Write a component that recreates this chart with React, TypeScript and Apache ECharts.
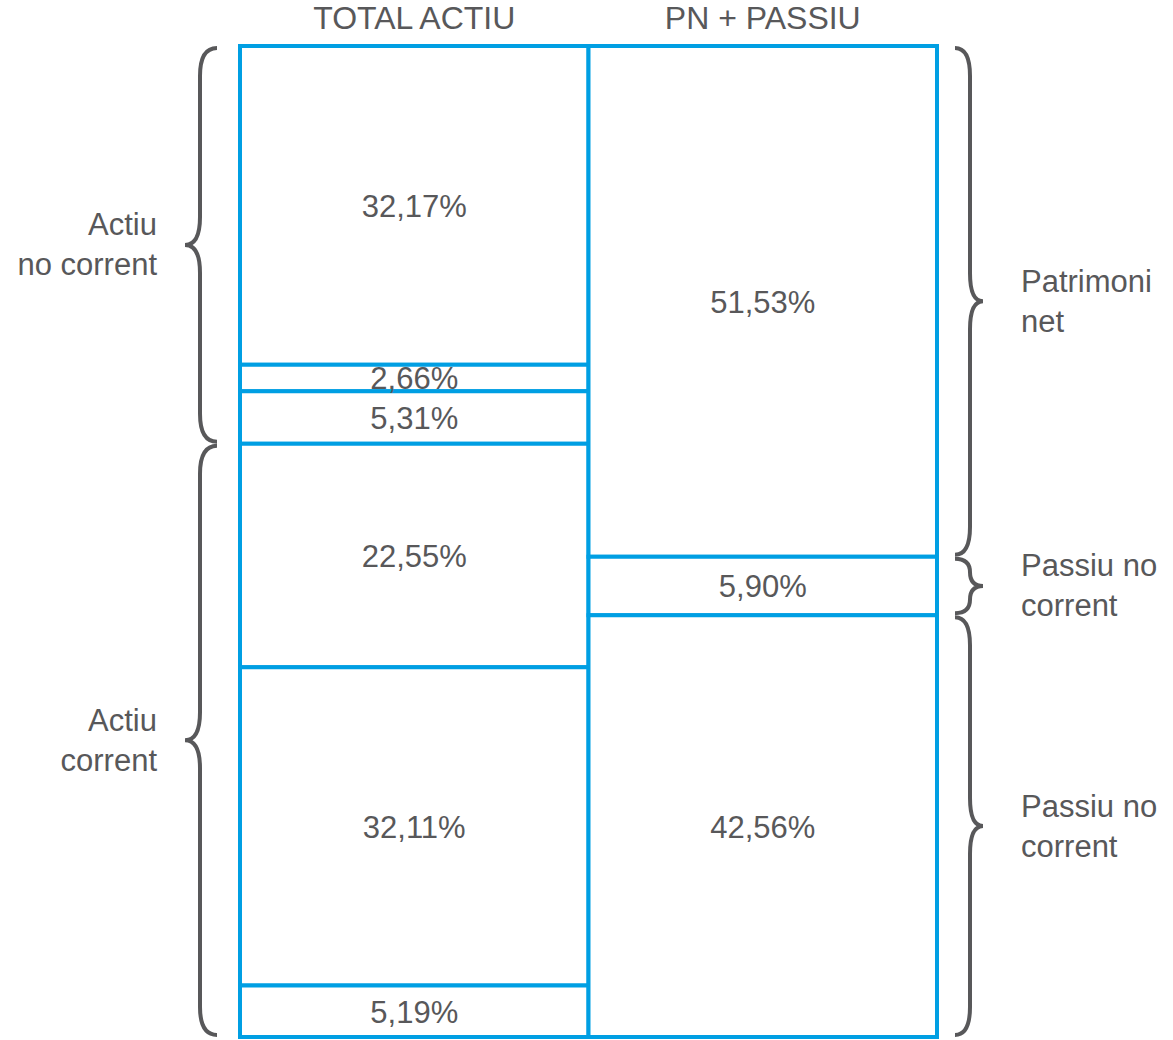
import React, { useEffect, useRef } from "react";
import * as echarts from "echarts";

const columns = ["TOTAL ACTIU", "PN + PASSIU"];
const actiuValues = [32.17, 2.66, 5.31, 22.55, 32.11, 5.19];
const passiuValues = [51.53, 5.9, 42.56];
// groups: [first segment index, last segment index, label]
const leftGroups: [number, number, string][] = [
  [0, 2, "Actiu\nno corrent"],
  [3, 5, "Actiu\ncorrent"],
];
const rightGroups: [number, number, string][] = [
  [0, 0, "Patrimoni\nnet"],
  [1, 1, "Passiu no\ncorrent"],
  [2, 2, "Passiu no\ncorrent"],
];

const BLUE = "#009fe3";
const GREY = "#58585a";
const FONT = "'Liberation Sans', Arial, Helvetica, sans-serif";

function cum(arr: number[], upto: number) {
  let s = 0;
  for (let i = 0; i < upto; i++) s += arr[i];
  return s;
}

export default function App() {
  const ref = useRef<HTMLDivElement>(null);
  useEffect(() => {
    document.body.style.margin = "0";
    const chart = echarts.init(ref.current!, null, { renderer: "svg" });

    const segData: any[] = [];
    [actiuValues, passiuValues].forEach((vals, col) => {
      vals.forEach((v, i) => {
        segData.push([col, cum(vals, i), cum(vals, i + 1), v]);
      });
    });

    const segSeries = {
      type: "custom",
      clip: false,
      silent: true,
      data: segData,
      encode: { x: 0, y: [1, 2] },
      renderItem: (params: any, api: any) => {
        const col = api.value(0);
        const c0 = api.coord([col, api.value(1)]);
        const c1 = api.coord([col, api.value(2)]);
        const bw = api.size([1, 0])[0];
        const v = api.value(3);
        const y0 = c0[1];
        const y1 = c1[1];
        return {
          type: "group",
          children: [
            {
              type: "rect",
              shape: { x: c0[0] - bw / 2, y: y0, width: bw, height: y1 - y0 },
              style: { fill: "#ffffff", stroke: BLUE, lineWidth: 4 },
            },
            {
              type: "text",
              style: {
                text: v.toFixed(2).replace(".", ",") + "%",
                x: c0[0],
                y: (y0 + y1) / 2 + 1,
                align: "center",
                verticalAlign: "middle",
                fill: GREY,
                fontSize: 31,
                fontFamily: FONT,
              },
              z2: 10,
            },
          ],
        };
      },
    };

    const braceData: any[] = [];
    leftGroups.forEach((g) => {
      braceData.push([0, cum(actiuValues, g[0]), cum(actiuValues, g[1] + 1), g[2]]);
    });
    rightGroups.forEach((g) => {
      braceData.push([1, cum(passiuValues, g[0]), cum(passiuValues, g[1] + 1), g[2]]);
    });

    const braceSeries = {
      type: "custom",
      clip: false,
      silent: true,
      data: braceData,
      encode: { x: 0, y: [1, 2] },
      renderItem: (params: any, api: any) => {
        const side = api.value(0);
        const yStart = api.coord([0, api.value(1)])[1] + 2;
        const yEnd = api.coord([0, api.value(2)])[1] - 2;
        const label = braceData[params.dataIndex][3];
        const cs = params.coordSys;
        const ym = (yStart + yEnd) / 2;
        const h = yEnd - yStart;
        const r = Math.min(28, h / 4);
        let d: string;
        let tx: number;
        let align: string;
        if (side === 0) {
          const xv = cs.x - 40;
          const xe = xv + 17;
          const xt = xv - 15;
          d = `M ${xe} ${yStart} Q ${xv} ${yStart} ${xv} ${yStart + r} L ${xv} ${ym - r} Q ${xv} ${ym} ${xt} ${ym} Q ${xv} ${ym} ${xv} ${ym + r} L ${xv} ${yEnd - r} Q ${xv} ${yEnd} ${xe} ${yEnd}`;
          tx = cs.x - 83;
          align = "right";
        } else {
          const xv = cs.x + cs.width + 33;
          const xe = xv - 15;
          const xt = xv + 13;
          d = `M ${xe} ${yStart} Q ${xv} ${yStart} ${xv} ${yStart + r} L ${xv} ${ym - r} Q ${xv} ${ym} ${xt} ${ym} Q ${xv} ${ym} ${xv} ${ym + r} L ${xv} ${yEnd - r} Q ${xv} ${yEnd} ${xe} ${yEnd}`;
          tx = cs.x + cs.width + 84;
          align = "left";
        }
        return {
          type: "group",
          children: [
            {
              type: "path",
              shape: { pathData: d },
              style: { fill: "none", stroke: GREY, lineWidth: 4 },
            },
            {
              type: "text",
              style: {
                text: label,
                x: tx,
                y: ym,
                align,
                verticalAlign: "middle",
                fill: GREY,
                fontSize: 31,
                fontFamily: FONT,
                lineHeight: 40,
              },
            },
          ],
        };
      },
    };

    chart.setOption({
      animation: false,
      grid: { left: 240, right: 236, top: 46, bottom: 3, containLabel: false },
      xAxis: {
        type: "category",
        data: columns,
        position: "top",
        axisLine: { show: false },
        axisTick: { show: false },
        axisLabel: { color: GREY, fontSize: 32, fontFamily: FONT, margin: 12 },
      },
      yAxis: {
        type: "value",
        min: 0,
        max: 100,
        inverse: true,
        show: false,
      },
      series: [segSeries, braceSeries],
    });
    return () => chart.dispose();
  }, []);
  return <div ref={ref} style={{ width: 1173, height: 1040 }} />;
}
